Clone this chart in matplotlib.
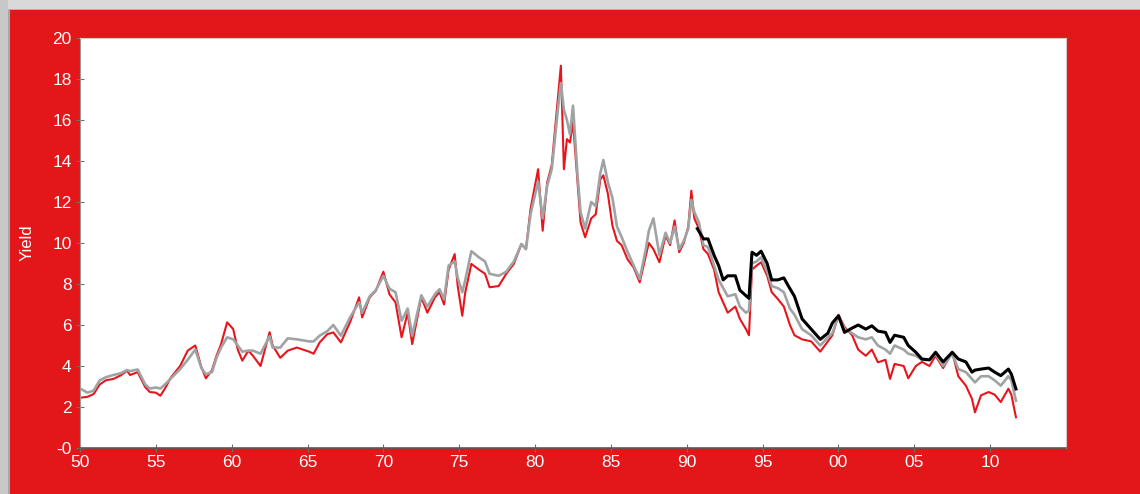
import matplotlib.pyplot as plt
from matplotlib.patches import Rectangle

plt.rcParams["font.family"] = ["Liberation Sans", "DejaVu Sans"]

# values (year, yield)
years = [1950.0, 1950.5, 1950.9, 1951.3, 1951.7, 1952.2, 1952.7, 1953.1, 1953.3, 1953.8,
         1954.3, 1954.6, 1955.0, 1955.3, 1955.6, 1956.0, 1956.6, 1957.1, 1957.6, 1958.0,
         1958.3, 1958.7, 1959.0, 1959.3, 1959.7, 1960.1, 1960.4, 1960.7, 1961.1, 1961.4,
         1961.9, 1962.5, 1962.7, 1963.2, 1963.7, 1964.3, 1965.1, 1965.4, 1965.8, 1966.3,
         1966.7, 1967.2, 1967.8, 1968.4, 1968.6, 1969.1, 1969.5, 1970.0, 1970.4, 1970.8,
         1971.2, 1971.6, 1971.9, 1972.5, 1972.9, 1973.4, 1973.7, 1974.0, 1974.3, 1974.7,
         1974.9, 1975.2, 1975.4, 1975.8, 1976.3, 1976.7, 1977.0, 1977.6, 1978.1, 1978.6,
         1979.1, 1979.4, 1979.7, 1980.2, 1980.5, 1980.8, 1981.1, 1981.3, 1981.5, 1981.7,
         1981.9, 1982.1, 1982.3, 1982.5, 1982.8, 1983.0, 1983.3, 1983.7, 1984.0, 1984.3,
         1984.5, 1984.8, 1985.1, 1985.4, 1985.7, 1986.1, 1986.5, 1986.9, 1987.3, 1987.5,
         1987.8, 1988.2, 1988.6, 1988.9, 1989.2, 1989.5, 1989.8, 1990.1, 1990.3, 1990.5,
         1990.8, 1991.1, 1991.4, 1991.8, 1992.1, 1992.4, 1992.7, 1993.2, 1993.5, 1993.9,
         1994.1, 1994.3, 1994.6, 1994.9, 1995.3, 1995.6, 1996.0, 1996.4, 1996.8, 1997.1,
         1997.6, 1998.2, 1998.8, 1999.3, 1999.6, 2000.0, 2000.4, 2000.9, 2001.3, 2001.8,
         2002.2, 2002.6, 2003.1, 2003.4, 2003.7, 2004.3, 2004.6, 2005.1, 2005.5, 2006.0,
         2006.4, 2006.9, 2007.5, 2007.9, 2008.4, 2008.8, 2009.0, 2009.4, 2009.9, 2010.3,
         2010.7, 2011.2, 2011.4, 2011.7]

red = [2.45, 2.5, 2.63, 3.1, 3.3, 3.37, 3.55, 3.77, 3.56, 3.7,
       2.97, 2.73, 2.7, 2.55, 2.9, 3.45, 4.0, 4.75, 5.0, 3.95,
       3.4, 3.8, 4.5, 5.07, 6.13, 5.8, 4.8, 4.26, 4.75, 4.5,
       4.0, 5.65, 5.0, 4.4, 4.75, 4.9, 4.7, 4.6, 5.15, 5.55,
       5.64, 5.15, 6.13, 7.35, 6.37, 7.35, 7.67, 8.6, 7.5, 7.1,
       5.4, 6.6, 5.07, 7.35, 6.6, 7.35, 7.6, 7.0, 8.7, 9.46,
       7.9, 6.45, 7.6, 8.98, 8.7, 8.5, 7.84, 7.9, 8.5, 8.98,
       9.95, 9.7, 11.66, 13.6, 10.6, 12.96, 13.8, 15.4, 17.0, 18.65,
       13.6, 15.07, 14.9, 15.9, 13.0, 11.0, 10.28, 11.2, 11.4, 13.1,
       13.3, 12.4, 10.84, 10.1, 9.9, 9.2, 8.8, 8.08, 9.38, 10.0,
       9.7, 9.06, 10.36, 9.9, 11.1, 9.55, 10.0, 10.8, 12.55, 11.2,
       10.7, 9.7, 9.46, 8.7, 7.6, 7.1, 6.6, 6.9, 6.3, 5.8,
       5.5, 8.7, 8.9, 9.06, 8.4, 7.6, 7.27, 6.9, 6.0, 5.5,
       5.3, 5.2, 4.7, 5.2, 5.5, 6.5, 5.9, 5.5, 4.8, 4.5,
       4.8, 4.18, 4.3, 3.37, 4.1, 4.0, 3.4, 4.0, 4.2, 4.0,
       4.5, 3.9, 4.67, 3.5, 3.04, 2.4, 1.74, 2.57, 2.73, 2.6,
       2.24, 2.89, 2.6, 1.5]

gray = [2.9, 2.7, 2.8, 3.3, 3.45, 3.56, 3.65, 3.8, 3.75, 3.83,
        3.1, 2.9, 2.95, 2.9, 3.1, 3.4, 3.85, 4.3, 4.8, 3.9,
        3.6, 3.7, 4.4, 4.9, 5.4, 5.3, 5.0, 4.7, 4.75, 4.75,
        4.6, 5.45, 4.9, 4.9, 5.35, 5.3, 5.2, 5.2, 5.48, 5.7,
        6.0, 5.48, 6.37, 7.1, 6.6, 7.4, 7.7, 8.4, 7.77, 7.6,
        6.2, 6.8, 5.48, 7.45, 6.9, 7.5, 7.75, 7.25, 8.9, 9.1,
        8.3, 7.6, 8.2, 9.6, 9.3, 9.1, 8.5, 8.4, 8.6, 9.1,
        9.95, 9.7, 11.4, 13.0, 11.2, 12.8, 13.6, 15.0, 16.5, 17.8,
        16.5, 16.0, 15.3, 16.7, 13.3, 11.5, 10.7, 12.0, 11.8, 13.4,
        14.05, 12.96, 12.2, 10.8, 10.3, 9.56, 8.9, 8.24, 9.7, 10.6,
        11.2, 9.4, 10.5, 10.0, 10.8, 9.7, 10.1, 10.7, 12.1, 11.5,
        11.0, 9.9, 9.8, 8.9, 8.2, 7.8, 7.4, 7.5, 6.9, 6.6,
        6.7, 9.0, 9.1, 9.3, 8.6, 7.9, 7.8, 7.6, 6.8, 6.5,
        5.8, 5.5, 5.0, 5.4, 5.6, 6.45, 5.8, 5.6, 5.4, 5.3,
        5.4, 5.0, 4.8, 4.6, 5.0, 4.8, 4.6, 4.5, 4.3, 4.3,
        4.6, 4.0, 4.6, 3.85, 3.7, 3.37, 3.2, 3.5, 3.5, 3.3,
        3.04, 3.5, 3.3, 2.3]

years_long = [1990.7, 1991.1, 1991.4, 1991.8, 1992.1, 1992.4, 1992.7, 1993.2, 1993.5, 1993.9,
              1994.1, 1994.3, 1994.6, 1994.9, 1995.3, 1995.6, 1996.0, 1996.4, 1996.7, 1997.1,
              1997.6, 1998.2, 1998.8, 1999.3, 1999.6, 2000.0, 2000.4, 2000.9, 2001.3, 2001.8,
              2002.2, 2002.6, 2003.1, 2003.4, 2003.7, 2004.3, 2004.6, 2005.1, 2005.5, 2006.0,
              2006.4, 2006.9, 2007.5, 2007.9, 2008.4, 2008.8, 2009.0, 2009.4, 2009.9, 2010.3,
              2010.7, 2011.2, 2011.4, 2011.7]

black = [10.7, 10.2, 10.2, 9.4, 8.9, 8.2, 8.4, 8.4, 7.7, 7.43,
         7.3, 9.55, 9.4, 9.6, 9.0, 8.2, 8.2, 8.3, 7.9, 7.4,
         6.3, 5.8, 5.3, 5.6, 6.1, 6.45, 5.64, 5.85, 6.0, 5.8,
         5.96, 5.7, 5.64, 5.15, 5.5, 5.4, 5.0, 4.67, 4.34, 4.3,
         4.67, 4.2, 4.67, 4.34, 4.2, 3.7, 3.8, 3.85, 3.9, 3.7,
         3.53, 3.85, 3.6, 2.88]

x_ticks = [1950, 1955, 1960, 1965, 1970, 1975, 1980, 1985, 1990, 1995, 2000, 2005, 2010]
x_labels = ["50", "55", "60", "65", "70", "75", "80", "85", "90", "95", "00", "05", "10"]
y_ticks = [0, 2, 4, 6, 8, 10, 12, 14, 16, 18, 20]
y_labels = ["-0", "2", "4", "6", "8", "10", "12", "14", "16", "18", "20"]

bg_red = "#e3171a"

fig = plt.figure(figsize=(11.4, 4.94), dpi=100, facecolor=bg_red)

# grey window frame on top and left edges
fig.patches.append(Rectangle((0, 1 - 9 / 494), 1, 9 / 494, transform=fig.transFigure,
                             facecolor="#d9d9d9", edgecolor="none", zorder=0))
fig.patches.append(Rectangle((0, 0), 8 / 1140, 1, transform=fig.transFigure,
                             facecolor="#c8c8c8", edgecolor="none", zorder=0))
fig.patches.append(Rectangle((8 / 1140, 0), 1.5 / 1140, 1 - 9 / 494, transform=fig.transFigure,
                             facecolor="#a8a8a8", edgecolor="none", zorder=0))
fig.patches.append(Rectangle((8 / 1140, 1 - 10.5 / 494), 1, 1.5 / 494, transform=fig.transFigure,
                             facecolor="#b0b0b0", edgecolor="none", zorder=0))

ax = fig.add_axes([80 / 1140, 46 / 494, 986 / 1140, 410 / 494])
ax.set_facecolor("white")

ax.plot(years, red, color="#e8141c", lw=1.5)
ax.plot(years, gray, color="#a0a3a4", lw=1.9)
ax.plot(years_long, black, color="black", lw=2.2)

ax.set_xlim(1950, 2015)
ax.set_ylim(0, 20)
ax.set_xticks(x_ticks)
ax.set_xticklabels(x_labels)
ax.set_yticks(y_ticks)
ax.set_yticklabels(y_labels)

ax.tick_params(axis="both", colors="#707070", labelcolor="white", labelsize=12.5,
               direction="inout", length=6, width=0.8)
ax.tick_params(axis="x", pad=2)
ax.tick_params(axis="y", pad=3)

ax.spines["left"].set_color("#9a9a9a")
ax.spines["bottom"].set_color("#5a5a5a")
ax.spines["bottom"].set_linewidth(1.2)
ax.spines["top"].set_color("#d8c4c4")
ax.spines["right"].set_color("#d8c4c4")

ax.set_ylabel("Yield", color="white", fontsize=12)
ax.yaxis.set_label_coords(-0.046, 0.5)

plt.savefig("out.png", dpi=100, facecolor=fig.get_facecolor())
